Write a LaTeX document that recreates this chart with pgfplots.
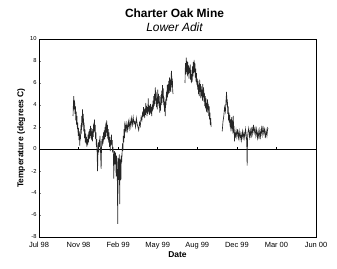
\documentclass[border=0pt]{standalone}
\usepackage{pgfplots}
\pgfplotsset{compat=1.18}
\usepackage{fontspec}
\setmainfont{Liberation Sans}
\begin{document}
\begin{tikzpicture}
\useasboundingbox (-39bp,-32bp) rectangle (298bp,237bp);
\begin{axis}[
  at={(0,0)}, anchor=south west,
  scale only axis, width=277bp, height=198bp,
  xmin=0, xmax=700, ymin=-8, ymax=10,
  xtick={0,100,...,700},
  xticklabels={Jul 98,Nov 98,Feb 99,May 99,Aug 99,Dec 99,Mar 00,Jun 00},
  xtick style={draw=none},
  ytick={-8,-6,...,10},
  ytick pos=left, tick align=inside,
  major tick length=2bp,
  /pgf/number format/assume math mode=true,
  x tick label style={font=\fontsize{7.5}{8}\selectfont, yshift=-2bp},
  y tick label style={font=\fontsize{5.8}{7}\selectfont, xshift=1bp},
  xlabel={\textbf{Date}},
  ylabel={\textbf{Temperature (degrees C)}},
  label style={font=\fontsize{8.5}{10}\selectfont},
  xlabel style={yshift=4bp},
  ylabel style={yshift=-2bp},
  title={{\bfseries Charter Oak Mine}\\{\itshape Lower Adit}},
  title style={align=center, font=\fontsize{12}{14}\selectfont, yshift=-2bp, xshift=-3bp},
  axis line style={line width=0.6pt},
]
\addplot[black, line width=0.5pt] coordinates {(0,0) (700,0)};
\addplot[ycomb, black, line width=0.5pt, mark=none] coordinates {(100,0.22) (200,0.22) (300,0.22) (400,0.22) (500,0.22) (600,0.22)};
\addplot[black!85, line width=0.65pt, mark=none] coordinates {
(86,3.0) (87,4.2) (88,4.8) (89,3.6) (90,4.4) (91,3.2) (92,3.9) (93,2.6) (94,3.4) (95,2.2)
(96,3.0) (97,1.8) (98,2.4) (99,1.2) (100,1.9) (101,0.8) (102,1.6) (103,0.3) (104,1.3) (105,0.9)
(106,2.2) (107,1.4) (108,3.0) (109,2.0) (110,3.6) (111,2.4) (112,3.2) (113,1.6) (114,2.4) (115,1.0)
(116,1.8) (117,0.6) (118,1.4) (119,0.5) (120,1.1) (121,0.2) (122,0.9) (123,0.4) (124,1.3) (125,0.6)
(126,1.6) (127,0.9) (128,1.8) (129,1.0) (130,2.1) (131,1.2) (132,1.9) (133,0.8) (134,1.6) (135,0.7)
(136,1.8) (137,1.1) (138,2.3) (139,1.5) (140,2.7) (141,1.6) (142,2.2) (143,0.9) (144,1.5) (145,0.2)
(146,0.9) (147,-0.6) (148,-2.0) (149,-0.4) (150,0.6) (151,-0.3) (152,0.8) (153,0.2) (154,1.2) (155,0.4)
(156,-0.8) (157,-1.8) (158,0.1) (159,0.9) (160,0.3) (161,1.2) (162,0.5) (163,1.5) (164,0.8) (165,1.7)
(166,0.9) (167,2.0) (168,1.1) (169,2.4) (170,1.5) (171,2.6) (172,1.2) (173,2.2) (174,0.9) (175,1.8)
(176,0.6) (177,1.5) (178,0.2) (179,1.1) (180,-0.2) (181,0.8) (182,0.3) (183,1.3) (184,0.4) (185,0.8)
(186,-0.3) (187,0.2) (188,-0.5) (189,-2.7) (190,-0.6) (191,-0.2) (192,-1.4) (193,-0.3) (194,-0.9) (195,-2.5)
(196,-0.6) (197,-1.2) (198,-3.0) (199,-6.8) (200,-0.8) (201,-1.6) (202,-2.8) (203,-0.5) (204,-5.0) (205,-0.9)
(206,-1.5) (207,-2.8) (208,-0.6) (209,-1.2) (210,-0.3) (211,0.5) (212,-0.2) (213,1.2) (214,0.6) (215,1.8)
(216,1.0) (217,2.5) (218,1.6) (219,2.2) (220,1.5) (222,2.3) (224,1.7) (226,2.5) (228,1.9) (230,2.6)
(232,2.0) (234,2.8) (236,2.2) (238,2.9) (240,2.3) (242,2.5) (244,2.0) (246,2.8) (248,2.3) (250,2.0)
(252,1.7) (254,2.4) (256,2.1) (258,2.9) (260,2.6) (262,3.4) (263,2.9) (264,3.8) (265,3.0) (266,3.6)
(267,2.8) (268,3.7) (269,3.1) (270,4.2) (271,3.3) (272,3.9) (273,3.0) (274,3.8) (275,3.2) (276,4.6)
(277,3.4) (278,4.0) (279,3.1) (280,3.9) (281,3.3) (282,4.1) (283,3.2) (284,3.8) (285,3.0) (286,4.0)
(287,3.5) (288,4.4) (289,3.6) (290,4.8) (291,3.9) (292,5.0) (293,4.1) (294,5.6) (295,4.4) (296,5.2)
(297,3.8) (298,4.6) (299,3.6) (300,5.4) (301,4.2) (302,5.0) (303,3.9) (304,4.8) (305,3.3) (306,4.2)
(307,3.5) (308,4.9) (309,4.0) (310,5.3) (311,4.2) (312,5.8) (313,4.6) (314,5.5) (315,4.0) (316,4.7)
(317,3.4) (318,4.3) (319,3.0) (320,4.5) (321,4.0) (322,5.2) (323,4.4) (324,5.8) (325,4.7) (326,5.9)
(327,5.0) (328,6.2) (329,5.1) (330,6.5) (331,5.3) (332,6.3) (333,5.2) (334,6.8) (335,7.1) (336,5.6)
(337,6.4) (338,5.2) (339,5.0)
};
\addplot[black!85, line width=0.65pt, mark=none] coordinates {
(369,6.0) (370,7.8) (371,6.8) (372,8.3) (373,7.0) (374,8.0) (375,6.6) (376,7.9) (377,6.8) (378,7.6)
(379,6.4) (380,7.4) (381,6.9) (382,7.7) (383,6.3) (384,7.2) (385,6.0) (386,6.8) (387,6.1) (388,7.5)
(389,6.6) (390,7.9) (391,6.9) (392,8.1) (393,7.0) (394,7.8) (395,6.5) (396,7.3) (397,6.1) (398,6.9)
(399,5.8) (400,6.4) (401,5.4) (402,6.2) (403,5.0) (404,5.8) (405,4.8) (406,6.3) (407,5.2) (408,5.9)
(409,4.6) (410,5.7) (411,4.8) (412,5.4) (413,4.4) (414,5.9) (415,4.7) (416,5.6) (417,4.3) (418,5.1)
(419,3.9) (420,4.8) (421,3.7) (422,4.6) (423,3.4) (424,4.2) (425,3.3) (426,4.5) (427,3.6) (428,4.1)
(429,3.0) (430,3.9) (431,2.7) (432,3.3) (433,2.2) (434,2.8) (435,2.0)
};
\addplot[black!85, line width=0.65pt, mark=none] coordinates {
(463,1.6) (465,2.5) (467,3.0) (469,3.8) (471,3.4) (473,4.6) (474,5.2) (475,4.0) (476,4.5) (477,3.2)
(478,3.9) (479,2.6) (480,3.3) (481,2.4) (482,3.1) (483,2.0) (484,2.7) (485,1.6) (486,2.4) (487,2.9)
(488,1.8) (489,2.6) (490,1.4) (491,3.0) (492,1.5) (493,2.1) (494,0.7) (495,1.5) (496,1.0) (498,1.7)
(500,1.1) (502,1.8) (504,1.0) (506,1.6) (508,0.9) (510,1.4) (512,0.8) (514,1.6) (516,1.0) (518,1.5)
(520,1.0) (522,1.8) (524,1.2) (525,0.6) (526,-1.5) (527,0.9) (528,1.5) (530,1.9) (532,1.1) (534,1.7)
(536,1.0) (538,2.0) (540,1.4) (542,2.2) (544,1.5) (546,1.9) (548,1.2) (550,1.8) (552,1.0) (554,1.6)
(556,0.9) (558,1.7) (560,1.1) (562,1.9) (564,1.3) (566,2.1) (568,1.4) (570,1.8) (572,1.0) (574,1.7)
(576,1.2) (578,1.9) (579,1.8)
};
\end{axis}
\end{tikzpicture}
\end{document}
